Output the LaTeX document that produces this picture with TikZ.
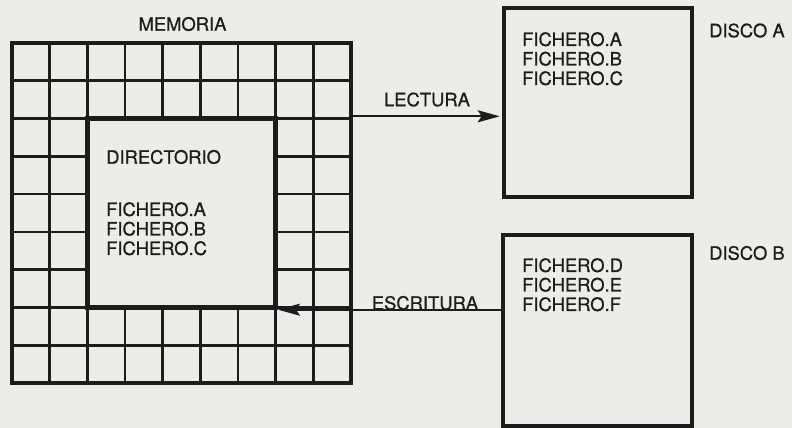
\documentclass[tikz,border=0pt]{standalone}
\usepackage{fontspec}
\setmainfont{TeX Gyre Heros}[FakeBold=0.7]
\usepackage{tikz}
\usetikzlibrary{arrows.meta,positioning}
\definecolor{paper}{RGB}{236,236,233}
\definecolor{ink}{RGB}{28,28,28}

\begin{document}
\begin{tikzpicture}[x=1pt, y=-1pt,
  every node/.style={text=ink, font=\fontsize{18.4}{19.5}\selectfont, inner sep=0pt},
  cellline/.style={draw=ink, line width=2.6pt},
  frame/.style={draw=ink, line width=4.6pt},
  flow/.style={draw=ink, line width=2.2pt, -{Stealth[length=22pt, width=12pt, inset=4pt]}},
  filelist/.style={anchor=north west, align=left}]
\fill[paper] (0,0) rectangle (792,428);
\useasboundingbox (0,0) rectangle (792,428);
% Memory grid
\foreach \i in {1,...,8} {
  \draw[cellline] (12+\i*37.67,43) -- ++(0,340);
  \draw[cellline] (12,43+\i*37.78) -- ++(339,0);
}
\node[frame, fill=paper, minimum width=188.4pt, minimum height=188.8pt] (dir) at (181.5,213) {};
\node[frame, minimum width=339pt, minimum height=340pt] (mem) at (181.5,213) {};
\node (memtitle) at (182.5,24) {MEMORIA};
% Directory
\node[anchor=west] (dirtitle) at (106,157) {DIRECTORIO};
\node[filelist] (dirfiles) at (106,202) {FICHERO.A\\FICHERO.B\\FICHERO.C};
% Disks
\node[frame, minimum width=188pt, minimum height=189pt] (discoA) at (598,102.5) {};
\node[frame, minimum width=189pt, minimum height=191pt] (discoB) at (597.5,330.5) {};
\node[filelist] (filesA) at (522,32) {FICHERO.A\\FICHERO.B\\FICHERO.C};
\node[filelist] (filesB) at (522,258) {FICHERO.D\\FICHERO.E\\FICHERO.F};
\node[anchor=west] (labelA) at (709,30.5) {DISCO A};
\node[anchor=west] (labelB) at (709,253) {DISCO B};
% Transfers
\draw[flow, shorten >=2pt] (dir.north -| mem.east) -- (dir.north -| discoA.west);
\draw[flow] (dir.south -| discoB.west) -- (dir.south east);
\node (lectura) at (427,99.5) {LECTURA};
\node (escritura) at (425,303) {ESCRITURA};
\end{tikzpicture}
\end{document}
